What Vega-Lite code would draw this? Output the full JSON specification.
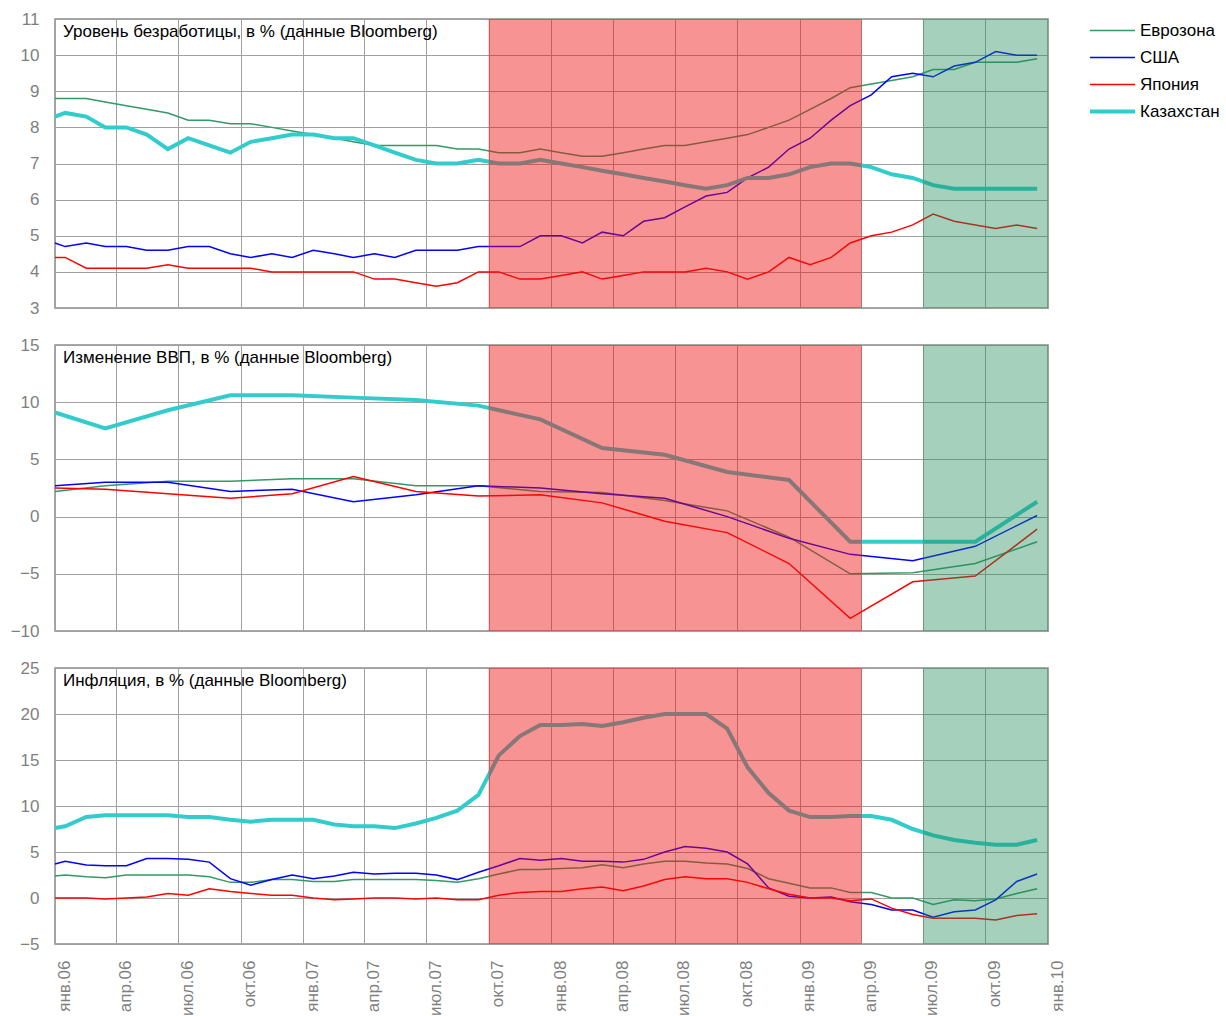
{
  "$schema": "https://vega.github.io/schema/vega-lite/v6.json",
  "background": "white",
  "padding": {"left": 9, "top": 9, "right": 0, "bottom": 0},
  "spacing": 37,
  "bounds": "flush",
  "config": {
    "font": "Liberation Sans",
    "view": {"stroke": "#8c8c8c", "strokeWidth": 1.5},
    "axis": {"gridColor": "#a0a0a0", "gridOpacity": 1, "gridWidth": 1, "domain": false, "ticks": false, "labelFont": "Liberation Sans", "labelFontSize": 17, "labelColor": "#7f7f7f", "title": null},
    "axisY": {"labelPadding": 16, "minExtent": 45, "maxExtent": 45, "labelOverlap": false},
    "legend": {"title": null, "symbolType": "stroke", "symbolSize": 2025, "labelFontSize": 17, "labelColor": "black", "labelFont": "Liberation Sans", "labelOffset": 3, "rowPadding": 0, "clipHeight": 27, "padding": 0, "labelLimit": 300}
  },
  "resolve": {"scale": {"color": "shared", "strokeWidth": "shared", "y": "independent"}, "legend": {"color": "shared", "strokeWidth": "shared"}},
  "datasets": {
    "zones": [
      {"zone": "кризис", "from": "2007-10-01", "to": "2009-04-02"},
      {"zone": "восстановление", "from": "2009-07-01", "to": "2010-01-01"}
    ],
    "unemp": [
      {"d": "2006-01-01", "Еврозона": 8.8, "США": 4.8, "Япония": 4.4, "Казахстан": 8.3},
      {"d": "2006-01-16", "Еврозона": 8.8, "США": 4.7, "Япония": 4.4, "Казахстан": 8.4},
      {"d": "2006-02-16", "Еврозона": 8.8, "США": 4.8, "Япония": 4.1, "Казахстан": 8.3},
      {"d": "2006-03-16", "Еврозона": 8.7, "США": 4.7, "Япония": 4.1, "Казахстан": 8.0},
      {"d": "2006-04-16", "Еврозона": 8.6, "США": 4.7, "Япония": 4.1, "Казахстан": 8.0},
      {"d": "2006-05-16", "Еврозона": 8.5, "США": 4.6, "Япония": 4.1, "Казахстан": 7.8},
      {"d": "2006-06-16", "Еврозона": 8.4, "США": 4.6, "Япония": 4.2, "Казахстан": 7.4},
      {"d": "2006-07-16", "Еврозона": 8.2, "США": 4.7, "Япония": 4.1, "Казахстан": 7.7},
      {"d": "2006-08-16", "Еврозона": 8.2, "США": 4.7, "Япония": 4.1, "Казахстан": 7.5},
      {"d": "2006-09-16", "Еврозона": 8.1, "США": 4.5, "Япония": 4.1, "Казахстан": 7.3},
      {"d": "2006-10-16", "Еврозона": 8.1, "США": 4.4, "Япония": 4.1, "Казахстан": 7.6},
      {"d": "2006-11-16", "Еврозона": 8.0, "США": 4.5, "Япония": 4.0, "Казахстан": 7.7},
      {"d": "2006-12-16", "Еврозона": 7.9, "США": 4.4, "Япония": 4.0, "Казахстан": 7.8},
      {"d": "2007-01-16", "Еврозона": 7.8, "США": 4.6, "Япония": 4.0, "Казахстан": 7.8},
      {"d": "2007-02-16", "Еврозона": 7.7, "США": 4.5, "Япония": 4.0, "Казахстан": 7.7},
      {"d": "2007-03-16", "Еврозона": 7.6, "США": 4.4, "Япония": 4.0, "Казахстан": 7.7},
      {"d": "2007-04-16", "Еврозона": 7.5, "США": 4.5, "Япония": 3.8, "Казахстан": 7.5},
      {"d": "2007-05-16", "Еврозона": 7.5, "США": 4.4, "Япония": 3.8, "Казахстан": 7.3},
      {"d": "2007-06-16", "Еврозона": 7.5, "США": 4.6, "Япония": 3.7, "Казахстан": 7.1},
      {"d": "2007-07-16", "Еврозона": 7.5, "США": 4.6, "Япония": 3.6, "Казахстан": 7.0},
      {"d": "2007-08-16", "Еврозона": 7.4, "США": 4.6, "Япония": 3.7, "Казахстан": 7.0},
      {"d": "2007-09-16", "Еврозона": 7.4, "США": 4.7, "Япония": 4.0, "Казахстан": 7.1},
      {"d": "2007-10-16", "Еврозона": 7.3, "США": 4.7, "Япония": 4.0, "Казахстан": 7.0},
      {"d": "2007-11-16", "Еврозона": 7.3, "США": 4.7, "Япония": 3.8, "Казахстан": 7.0},
      {"d": "2007-12-16", "Еврозона": 7.4, "США": 5.0, "Япония": 3.8, "Казахстан": 7.1},
      {"d": "2008-01-16", "Еврозона": 7.3, "США": 5.0, "Япония": 3.9, "Казахстан": 7.0},
      {"d": "2008-02-16", "Еврозона": 7.2, "США": 4.8, "Япония": 4.0, "Казахстан": 6.9},
      {"d": "2008-03-16", "Еврозона": 7.2, "США": 5.1, "Япония": 3.8, "Казахстан": 6.8},
      {"d": "2008-04-16", "Еврозона": 7.3, "США": 5.0, "Япония": 3.9, "Казахстан": 6.7},
      {"d": "2008-05-16", "Еврозона": 7.4, "США": 5.4, "Япония": 4.0, "Казахстан": 6.6},
      {"d": "2008-06-16", "Еврозона": 7.5, "США": 5.5, "Япония": 4.0, "Казахстан": 6.5},
      {"d": "2008-07-16", "Еврозона": 7.5, "США": 5.8, "Япония": 4.0, "Казахстан": 6.4},
      {"d": "2008-08-16", "Еврозона": 7.6, "США": 6.1, "Япония": 4.1, "Казахстан": 6.3},
      {"d": "2008-09-16", "Еврозона": 7.7, "США": 6.2, "Япония": 4.0, "Казахстан": 6.4},
      {"d": "2008-10-16", "Еврозона": 7.8, "США": 6.6, "Япония": 3.8, "Казахстан": 6.6},
      {"d": "2008-11-16", "Еврозона": 8.0, "США": 6.9, "Япония": 4.0, "Казахстан": 6.6},
      {"d": "2008-12-16", "Еврозона": 8.2, "США": 7.4, "Япония": 4.4, "Казахстан": 6.7},
      {"d": "2009-01-16", "Еврозона": 8.5, "США": 7.7, "Япония": 4.2, "Казахстан": 6.9},
      {"d": "2009-02-16", "Еврозона": 8.8, "США": 8.2, "Япония": 4.4, "Казахстан": 7.0},
      {"d": "2009-03-16", "Еврозона": 9.1, "США": 8.6, "Япония": 4.8, "Казахстан": 7.0},
      {"d": "2009-04-16", "Еврозона": 9.2, "США": 8.9, "Япония": 5.0, "Казахстан": 6.9},
      {"d": "2009-05-16", "Еврозона": 9.3, "США": 9.4, "Япония": 5.1, "Казахстан": 6.7},
      {"d": "2009-06-16", "Еврозона": 9.4, "США": 9.5, "Япония": 5.3, "Казахстан": 6.6},
      {"d": "2009-07-16", "Еврозона": 9.6, "США": 9.4, "Япония": 5.6, "Казахстан": 6.4},
      {"d": "2009-08-16", "Еврозона": 9.6, "США": 9.7, "Япония": 5.4, "Казахстан": 6.3},
      {"d": "2009-09-16", "Еврозона": 9.8, "США": 9.8, "Япония": 5.3, "Казахстан": 6.3},
      {"d": "2009-10-16", "Еврозона": 9.8, "США": 10.1, "Япония": 5.2, "Казахстан": 6.3},
      {"d": "2009-11-16", "Еврозона": 9.8, "США": 10.0, "Япония": 5.3, "Казахстан": 6.3},
      {"d": "2009-12-16", "Еврозона": 9.9, "США": 10.0, "Япония": 5.2, "Казахстан": 6.3}
    ],
    "gdp": [
      {"d": "2006-01-01", "Еврозона": 2.2, "США": 2.7, "Япония": 2.5, "Казахстан": 9.1},
      {"d": "2006-03-16", "Еврозона": 2.7, "США": 3.0, "Япония": 2.4, "Казахстан": 7.7},
      {"d": "2006-06-16", "Еврозона": 3.1, "США": 3.0, "Япония": 2.0, "Казахстан": 9.3},
      {"d": "2006-09-16", "Еврозона": 3.1, "США": 2.2, "Япония": 1.6, "Казахстан": 10.6},
      {"d": "2006-12-16", "Еврозона": 3.3, "США": 2.4, "Япония": 2.0, "Казахстан": 10.6},
      {"d": "2007-03-16", "Еврозона": 3.3, "США": 1.3, "Япония": 3.5, "Казахстан": 10.4},
      {"d": "2007-06-16", "Еврозона": 2.7, "США": 1.9, "Япония": 2.2, "Казахстан": 10.2},
      {"d": "2007-09-16", "Еврозона": 2.7, "США": 2.7, "Япония": 1.8, "Казахстан": 9.7},
      {"d": "2007-12-16", "Еврозона": 2.2, "США": 2.5, "Япония": 1.9, "Казахстан": 8.5},
      {"d": "2008-03-16", "Еврозона": 2.1, "США": 2.0, "Япония": 1.2, "Казахстан": 6.0},
      {"d": "2008-06-16", "Еврозона": 1.4, "США": 1.6, "Япония": -0.4, "Казахстан": 5.4},
      {"d": "2008-09-16", "Еврозона": 0.5, "США": 0.0, "Япония": -1.4, "Казахстан": 3.9},
      {"d": "2008-12-16", "Еврозона": -1.8, "США": -1.9, "Япония": -4.1, "Казахстан": 3.2},
      {"d": "2009-03-16", "Еврозона": -5.0, "США": -3.3, "Япония": -8.9, "Казахстан": -2.2},
      {"d": "2009-06-16", "Еврозона": -4.9, "США": -3.85, "Япония": -5.7, "Казахстан": -2.2},
      {"d": "2009-09-16", "Еврозона": -4.1, "США": -2.6, "Япония": -5.2, "Казахстан": -2.2},
      {"d": "2009-12-16", "Еврозона": -2.2, "США": 0.1, "Япония": -1.1, "Казахстан": 1.3}
    ],
    "infl": [
      {"d": "2006-01-01", "Еврозона": 2.4, "США": 3.7, "Япония": 0.0, "Казахстан": 7.6},
      {"d": "2006-01-16", "Еврозона": 2.5, "США": 4.0, "Япония": 0.0, "Казахстан": 7.8},
      {"d": "2006-02-16", "Еврозона": 2.3, "США": 3.6, "Япония": 0.0, "Казахстан": 8.8},
      {"d": "2006-03-16", "Еврозона": 2.2, "США": 3.5, "Япония": -0.1, "Казахстан": 9.0},
      {"d": "2006-04-16", "Еврозона": 2.5, "США": 3.5, "Япония": 0.0, "Казахстан": 9.0},
      {"d": "2006-05-16", "Еврозона": 2.5, "США": 4.3, "Япония": 0.1, "Казахстан": 9.0},
      {"d": "2006-06-16", "Еврозона": 2.5, "США": 4.3, "Япония": 0.5, "Казахстан": 9.0},
      {"d": "2006-07-16", "Еврозона": 2.5, "США": 4.2, "Япония": 0.3, "Казахстан": 8.8},
      {"d": "2006-08-16", "Еврозона": 2.3, "США": 3.9, "Япония": 1.0, "Казахстан": 8.8},
      {"d": "2006-09-16", "Еврозона": 1.7, "США": 2.1, "Япония": 0.7, "Казахстан": 8.5},
      {"d": "2006-10-16", "Еврозона": 1.7, "США": 1.4, "Япония": 0.5, "Казахстан": 8.3},
      {"d": "2006-11-16", "Еврозона": 2.0, "США": 2.0, "Япония": 0.3, "Казахстан": 8.5},
      {"d": "2006-12-16", "Еврозона": 2.0, "США": 2.5, "Япония": 0.3, "Казахстан": 8.5},
      {"d": "2007-01-16", "Еврозона": 1.8, "США": 2.1, "Япония": 0.0, "Казахстан": 8.5},
      {"d": "2007-02-16", "Еврозона": 1.8, "США": 2.4, "Япония": -0.2, "Казахстан": 8.0},
      {"d": "2007-03-16", "Еврозона": 2.0, "США": 2.8, "Япония": -0.1, "Казахстан": 7.8},
      {"d": "2007-04-16", "Еврозона": 2.0, "США": 2.6, "Япония": 0.0, "Казахстан": 7.8},
      {"d": "2007-05-16", "Еврозона": 2.0, "США": 2.7, "Япония": 0.0, "Казахстан": 7.6},
      {"d": "2007-06-16", "Еврозона": 2.0, "США": 2.7, "Япония": -0.1, "Казахстан": 8.1},
      {"d": "2007-07-16", "Еврозона": 1.9, "США": 2.5, "Япония": 0.0, "Казахстан": 8.7},
      {"d": "2007-08-16", "Еврозона": 1.7, "США": 2.0, "Япония": -0.2, "Казахстан": 9.5},
      {"d": "2007-09-16", "Еврозона": 2.1, "США": 2.8, "Япония": -0.2, "Казахстан": 11.2},
      {"d": "2007-10-16", "Еврозона": 2.6, "США": 3.5, "Япония": 0.3, "Казахстан": 15.5},
      {"d": "2007-11-16", "Еврозона": 3.1, "США": 4.3, "Япония": 0.6, "Казахстан": 17.6},
      {"d": "2007-12-16", "Еврозона": 3.1, "США": 4.1, "Япония": 0.7, "Казахстан": 18.8},
      {"d": "2008-01-16", "Еврозона": 3.2, "США": 4.3, "Япония": 0.7, "Казахстан": 18.8},
      {"d": "2008-02-16", "Еврозона": 3.3, "США": 4.0, "Япония": 1.0, "Казахстан": 18.9},
      {"d": "2008-03-16", "Еврозона": 3.6, "США": 4.0, "Япония": 1.2, "Казахстан": 18.7},
      {"d": "2008-04-16", "Еврозона": 3.3, "США": 3.9, "Япония": 0.8, "Казахстан": 19.1},
      {"d": "2008-05-16", "Еврозона": 3.7, "США": 4.2, "Япония": 1.3, "Казахстан": 19.6},
      {"d": "2008-06-16", "Еврозона": 4.0, "США": 5.0, "Япония": 2.0, "Казахстан": 20.0},
      {"d": "2008-07-16", "Еврозона": 4.0, "США": 5.6, "Япония": 2.3, "Казахстан": 20.0},
      {"d": "2008-08-16", "Еврозона": 3.8, "США": 5.4, "Япония": 2.1, "Казахстан": 20.0},
      {"d": "2008-09-16", "Еврозона": 3.7, "США": 5.0, "Япония": 2.1, "Казахстан": 18.4},
      {"d": "2008-10-16", "Еврозона": 3.2, "США": 3.7, "Япония": 1.7, "Казахстан": 14.2},
      {"d": "2008-11-16", "Еврозона": 2.1, "США": 1.1, "Япония": 1.0, "Казахстан": 11.4},
      {"d": "2008-12-16", "Еврозона": 1.6, "США": 0.2, "Япония": 0.4, "Казахстан": 9.5},
      {"d": "2009-01-16", "Еврозона": 1.1, "США": 0.0, "Япония": 0.0, "Казахстан": 8.8},
      {"d": "2009-02-16", "Еврозона": 1.1, "США": 0.1, "Япония": 0.0, "Казахстан": 8.8},
      {"d": "2009-03-16", "Еврозона": 0.6, "США": -0.4, "Япония": -0.3, "Казахстан": 8.9},
      {"d": "2009-04-16", "Еврозона": 0.6, "США": -0.7, "Япония": -0.1, "Казахстан": 8.9},
      {"d": "2009-05-16", "Еврозона": 0.0, "США": -1.3, "Япония": -1.1, "Казахстан": 8.5},
      {"d": "2009-06-16", "Еврозона": 0.0, "США": -1.3, "Япония": -1.8, "Казахстан": 7.5},
      {"d": "2009-07-16", "Еврозона": -0.7, "США": -2.1, "Япония": -2.2, "Казахстан": 6.8},
      {"d": "2009-08-16", "Еврозона": -0.2, "США": -1.5, "Япония": -2.2, "Казахстан": 6.3},
      {"d": "2009-09-16", "Еврозона": -0.3, "США": -1.3, "Япония": -2.2, "Казахстан": 6.0},
      {"d": "2009-10-16", "Еврозона": -0.1, "США": -0.2, "Япония": -2.4, "Казахстан": 5.8},
      {"d": "2009-11-16", "Еврозона": 0.5, "США": 1.8, "Япония": -1.9, "Казахстан": 5.8},
      {"d": "2009-12-16", "Еврозона": 1.0, "США": 2.6, "Япония": -1.7, "Казахстан": 6.3}
    ]
  },
  "vconcat": [
    {
      "width": 993, "height": 289,
      "layer": [
        {
          "data": {"name": "unemp"},
          "transform": [{"fold": ["Еврозона", "США", "Япония", "Казахстан"], "as": ["s", "v"]}],
          "mark": {"type": "line"},
          "encoding": {
            "x": {"field": "d", "type": "temporal", "scale": {"type": "utc", "domain": [{"year": 2006, "month": 1, "date": 1, "utc": true}, {"year": 2010, "month": 1, "date": 1, "utc": true}]},
                  "axis": {"labels": false, "tickCount": {"interval": "month", "step": 3}, "grid": true, "minExtent": 0, "maxExtent": 0, "labelPadding": 0}},
            "y": {"field": "v", "type": "quantitative", "scale": {"domain": [3, 11], "nice": false, "zero": false}, "axis": {"values": [3, 4, 5, 6, 7, 8, 9, 10, 11], "labelOverlap": false}},
            "color": {"field": "s", "type": "nominal", "scale": {"domain": ["Еврозона", "США", "Япония", "Казахстан"], "range": ["#339966", "#0000ff", "#ff0000", "#33cccc"]}, "legend": {"orient": "none", "legendX": 1033, "legendY": -2}},
            "strokeWidth": {"field": "s", "type": "nominal", "scale": {"type": "ordinal", "domain": ["Еврозона", "США", "Япония", "Казахстан"], "range": [1.5, 1.5, 1.5, 4]}, "legend": {"orient": "none", "legendX": 1033, "legendY": -2}}
          }
        },
        {
          "data": {"name": "zones"},
          "transform": [{"filter": "datum.zone === 'кризис'"}],
          "mark": {"type": "rect", "fill": "#f01010", "opacity": 0.45},
          "encoding": {"x": {"field": "from", "type": "temporal"}, "x2": {"field": "to"}}
        },
        {
          "data": {"name": "zones"},
          "transform": [{"filter": "datum.zone === 'восстановление'"}],
          "mark": {"type": "rect", "fill": "#1f8a55", "opacity": 0.4},
          "encoding": {"x": {"field": "from", "type": "temporal"}, "x2": {"field": "to"}}
        },
        {
          "data": {"values": [{"t": "Уровень безработицы, в % (данные Bloomberg)"}]},
          "mark": {"type": "text", "align": "left", "baseline": "top", "fontSize": 17, "font": "Liberation Sans", "color": "black", "dx": 8, "dy": 5},
          "encoding": {"x": {"datum": {"year": 2006, "month": 1, "date": 1, "utc": true}, "type": "temporal"}, "y": {"datum": 11, "type": "quantitative", "axis": {"values": [3, 4, 5, 6, 7, 8, 9, 10, 11], "labelOverlap": false}}, "text": {"field": "t"}}
        }
      ]
    },
    {
      "width": 993, "height": 286,
      "layer": [
        {
          "data": {"name": "gdp"},
          "transform": [{"fold": ["Еврозона", "США", "Япония", "Казахстан"], "as": ["s", "v"]}],
          "mark": {"type": "line"},
          "encoding": {
            "x": {"field": "d", "type": "temporal", "scale": {"type": "utc", "domain": [{"year": 2006, "month": 1, "date": 1, "utc": true}, {"year": 2010, "month": 1, "date": 1, "utc": true}]},
                  "axis": {"labels": false, "tickCount": {"interval": "month", "step": 3}, "grid": true, "minExtent": 0, "maxExtent": 0, "labelPadding": 0}},
            "y": {"field": "v", "type": "quantitative", "scale": {"domain": [-10, 15], "nice": false, "zero": false}, "axis": {"values": [-10, -5, 0, 5, 10, 15], "labelOverlap": false}},
            "color": {"field": "s", "type": "nominal", "scale": {"domain": ["Еврозона", "США", "Япония", "Казахстан"], "range": ["#339966", "#0000ff", "#ff0000", "#33cccc"]}, "legend": {"orient": "none", "legendX": 1033, "legendY": -2}},
            "strokeWidth": {"field": "s", "type": "nominal", "scale": {"type": "ordinal", "domain": ["Еврозона", "США", "Япония", "Казахстан"], "range": [1.5, 1.5, 1.5, 4]}, "legend": {"orient": "none", "legendX": 1033, "legendY": -2}}
          }
        },
        {
          "data": {"name": "zones"},
          "transform": [{"filter": "datum.zone === 'кризис'"}],
          "mark": {"type": "rect", "fill": "#f01010", "opacity": 0.45},
          "encoding": {"x": {"field": "from", "type": "temporal"}, "x2": {"field": "to"}}
        },
        {
          "data": {"name": "zones"},
          "transform": [{"filter": "datum.zone === 'восстановление'"}],
          "mark": {"type": "rect", "fill": "#1f8a55", "opacity": 0.4},
          "encoding": {"x": {"field": "from", "type": "temporal"}, "x2": {"field": "to"}}
        },
        {
          "data": {"values": [{"t": "Изменение ВВП, в % (данные Bloomberg)"}]},
          "mark": {"type": "text", "align": "left", "baseline": "top", "fontSize": 17, "font": "Liberation Sans", "color": "black", "dx": 8, "dy": 5},
          "encoding": {"x": {"datum": {"year": 2006, "month": 1, "date": 1, "utc": true}, "type": "temporal"}, "y": {"datum": 15, "type": "quantitative", "axis": {"values": [-10, -5, 0, 5, 10, 15], "labelOverlap": false}}, "text": {"field": "t"}}
        }
      ]
    },
    {
      "width": 993, "height": 276,
      "layer": [
        {
          "data": {"name": "infl"},
          "transform": [{"fold": ["Еврозона", "США", "Япония", "Казахстан"], "as": ["s", "v"]}],
          "mark": {"type": "line"},
          "encoding": {
            "x": {"field": "d", "type": "temporal", "scale": {"type": "utc", "domain": [{"year": 2006, "month": 1, "date": 1, "utc": true}, {"year": 2010, "month": 1, "date": 1, "utc": true}]},
                  "axis": {"tickCount": {"interval": "month", "step": 3}, "grid": true, "labelAngle": -90, "labelPadding": 16, "labelOffset": 9, "labelFlush": false, "labelOverlap": false,
                           "labelExpr": "['янв','фев','мар','апр','май','июн','июл','авг','сен','окт','ноя','дек'][utcmonth(datum.value)] + '.' + utcFormat(datum.value, '%y')"}},
            "y": {"field": "v", "type": "quantitative", "scale": {"domain": [-5, 25], "nice": false, "zero": false}, "axis": {"values": [-5, 0, 5, 10, 15, 20, 25], "labelOverlap": false}},
            "color": {"field": "s", "type": "nominal", "scale": {"domain": ["Еврозона", "США", "Япония", "Казахстан"], "range": ["#339966", "#0000ff", "#ff0000", "#33cccc"]}, "legend": {"orient": "none", "legendX": 1033, "legendY": -2}},
            "strokeWidth": {"field": "s", "type": "nominal", "scale": {"type": "ordinal", "domain": ["Еврозона", "США", "Япония", "Казахстан"], "range": [1.5, 1.5, 1.5, 4]}, "legend": {"orient": "none", "legendX": 1033, "legendY": -2}}
          }
        },
        {
          "data": {"name": "zones"},
          "transform": [{"filter": "datum.zone === 'кризис'"}],
          "mark": {"type": "rect", "fill": "#f01010", "opacity": 0.45},
          "encoding": {"x": {"field": "from", "type": "temporal"}, "x2": {"field": "to"}}
        },
        {
          "data": {"name": "zones"},
          "transform": [{"filter": "datum.zone === 'восстановление'"}],
          "mark": {"type": "rect", "fill": "#1f8a55", "opacity": 0.4},
          "encoding": {"x": {"field": "from", "type": "temporal"}, "x2": {"field": "to"}}
        },
        {
          "data": {"values": [{"t": "Инфляция, в % (данные Bloomberg)"}]},
          "mark": {"type": "text", "align": "left", "baseline": "top", "fontSize": 17, "font": "Liberation Sans", "color": "black", "dx": 8, "dy": 5},
          "encoding": {"x": {"datum": {"year": 2006, "month": 1, "date": 1, "utc": true}, "type": "temporal"}, "y": {"datum": 25, "type": "quantitative", "axis": {"values": [-5, 0, 5, 10, 15, 20, 25], "labelOverlap": false}}, "text": {"field": "t"}}
        }
      ]
    }
  ]
}
